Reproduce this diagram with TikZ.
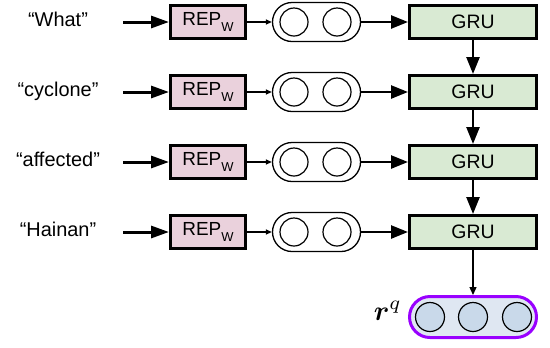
\documentclass[tikz,border=0pt]{standalone}
\usepackage{fontspec}
\setmainfont{Liberation Sans}
\usepackage{bm}
\usetikzlibrary{shapes.misc,arrows.meta}
\definecolor{reppink}{HTML}{EAD1DC}
\definecolor{grugreen}{HTML}{D9EAD3}
\definecolor{ovalfill}{HTML}{DFE7F2}
\definecolor{circfill}{HTML}{C9D9EA}
\definecolor{purp}{HTML}{9900FF}
\newcommand{\repsub}{REP\raisebox{-6bp}{\fontsize{13}{14}\selectfont W}}
\tikzset{
  word/.style={font=\fontsize{20}{22}\selectfont, inner sep=0pt, anchor=base},
  repbox/.style={draw, line width=3bp, fill=reppink, minimum width=75bp, minimum height=33bp, inner sep=0pt, font=\fontsize{19}{20}\selectfont},
  grubox/.style={draw, line width=3bp, fill=grugreen, minimum width=127bp, minimum height=33bp, inner sep=0pt, font=\fontsize{19.5}{20}\selectfont},
  wordoval/.style={draw, line width=1.3bp, fill=white, rounded rectangle, minimum width=88bp, minimum height=39bp, inner sep=0pt},
  outoval/.style={draw=purp, line width=3bp, fill=ovalfill, rounded rectangle, minimum width=127bp, minimum height=41bp, inner sep=0pt},
  wcirc/.style={draw, line width=1.2bp, circle, minimum size=28bp, inner sep=0pt},
  ocirc/.style={draw, line width=1.2bp, circle, fill=circfill, minimum size=29bp, inner sep=0pt},
  bigarrow/.style={line width=3bp, -{Triangle[length=18bp, width=12bp]}},
  midarrow/.style={line width=2.5bp, -{Triangle[length=17bp, width=13bp]}},
  smallarrow/.style={line width=1.3bp, -{Triangle[length=6bp, width=5bp]}},
  thinarrow/.style={line width=1.3bp, -{Triangle[length=8bp, width=7bp]}},
}
\begin{document}
\begin{tikzpicture}[x=1bp, y=-1bp]
\useasboundingbox (0,0) rectangle (550,347);
\foreach \i/\w/\y in {1/What/22, 2/cyclone/92, 3/affected/162, 4/Hainan/232} {
  \node[word] (w\i) at (58,\y+4) {“\w”};
  \coordinate (s\i) at (123,\y);
  \node[repbox] (rep\i) at (208,\y) {\repsub};
  \node[wordoval] (ov\i) at (316.5,\y) {};
  \node[wcirc] (c\i a) at (294,\y) {};
  \node[wcirc] (c\i b) at (337,\y) {};
  \node[grubox] (gru\i) at (473,\y) {GRU};
  \draw[bigarrow] (s\i) -- (rep\i.west);
  \draw[smallarrow] (rep\i.east) -- (ov\i.west);
  \draw[midarrow] (ov\i.east) -- (gru\i.west);
}
\draw[midarrow] (gru1.south) -- (gru2.north);
\draw[midarrow] (gru2.south) -- (gru3.north);
\draw[midarrow] (gru3.south) -- (gru4.north);
\node[outoval] (out) at (473,317) {};
\node[ocirc] (o1) at (430,317) {};
\node[ocirc] (o2) at (473,317) {};
\node[ocirc] (o3) at (517,317) {};
\node[inner sep=0pt, anchor=base east] (rq) at (402,320) {\scalebox{2.8}{$\bm{r}^{q}$}};
\draw[thinarrow] (gru4.south) -- (out.north);
\end{tikzpicture}
\end{document}
